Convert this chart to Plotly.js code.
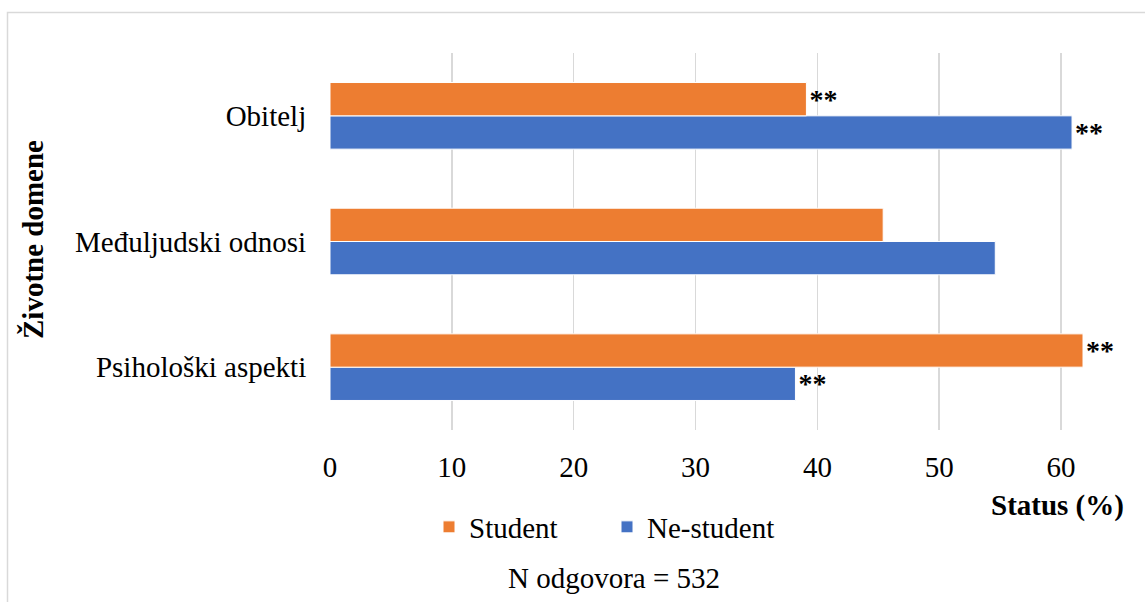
<!DOCTYPE html>
<html>
<head>
<meta charset="utf-8">
<script src="https://cdn.plot.ly/plotly-3.0.1.min.js"></script>
<style>
  html, body { margin: 0; padding: 0; background: #ffffff; }
  #chart { width: 1145px; height: 602px; }
</style>
</head>
<body>
<div id="chart"></div>
<script>
// Life domains, listed bottom to top on the category axis
const domains = ['Psihološki aspekti', 'Međuljudski odnosi', 'Obitelj'];

// Share of answers (%) by status
const studentValues = [61.8, 45.4, 39.1];
const nonStudentValues = [38.2, 54.6, 60.9];

// Significance markers shown at the end of each bar
const studentMarks = ['**', '', '**'];
const nonStudentMarks = ['**', '', '**'];

const seriesNames = ['Student', 'Ne-student'];
const xTicks = [0, 10, 20, 30, 40, 50, 60];

const serif = 'Liberation Serif, Times New Roman, serif';
const FS = 29;

const markFont = { family: serif, size: 28, color: '#000000', weight: 'bold' };

const traces = [
  {
    type: 'bar',
    orientation: 'h',
    name: seriesNames[1],
    y: domains,
    x: nonStudentValues,
    text: nonStudentMarks,
    textposition: 'outside',
    constraintext: 'none',
    cliponaxis: false,
    textfont: markFont,
    marker: { color: '#4472c4', line: { color: '#ffffff', width: 1 } },
    legendrank: 2,
    hoverinfo: 'x+name'
  },
  {
    type: 'bar',
    orientation: 'h',
    name: seriesNames[0],
    y: domains,
    x: studentValues,
    text: studentMarks,
    textposition: 'outside',
    constraintext: 'none',
    cliponaxis: false,
    textfont: markFont,
    marker: { color: '#ed7d31', line: { color: '#ffffff', width: 1 } },
    legendrank: 1,
    hoverinfo: 'x+name'
  }
];

// Plot area: x 330..1122, y 53..430
const L = 330, R = 23, T = 53, B = 172;
const W = 1145 - L - R, H = 602 - T - B;
const px = v => (v - L) / W;
const py = v => (602 - B - v) / H;

const layout = {
  width: 1145,
  height: 602,
  margin: { l: L, r: R, t: T, b: B, pad: 0 },
  paper_bgcolor: '#ffffff',
  plot_bgcolor: '#ffffff',
  barmode: 'group',
  bargap: 0.47,
  bargroupgap: 0,
  font: { family: serif, size: FS, color: '#000000' },
  xaxis: {
    range: [0, 65],
    tickvals: xTicks,
    ticktext: xTicks.map(String),
    showgrid: true,
    gridcolor: '#d9d9d9',
    gridwidth: 1.5,
    zeroline: false,
    showline: false,
    ticks: 'outside',
    ticklen: 11,
    tickcolor: 'rgba(0,0,0,0)',
    tickfont: { family: serif, size: FS, color: '#000000' },
    fixedrange: true
  },
  yaxis: {
    type: 'category',
    categoryorder: 'array',
    categoryarray: domains,
    showgrid: false,
    zeroline: false,
    showline: false,
    ticks: 'outside',
    ticklen: 17,
    tickcolor: 'rgba(0,0,0,0)',
    tickfont: { family: serif, size: FS, color: '#000000' },
    fixedrange: true
  },
  showlegend: true,
  legend: {
    orientation: 'h',
    x: px(429),
    xanchor: 'left',
    y: py(527),
    yanchor: 'middle',
    font: { family: serif, size: FS, color: '#000000' },
    entrywidth: 133,
    entrywidthmode: 'pixels',
    itemwidth: 30,
    tracegroupgap: 0,
    bgcolor: 'rgba(0,0,0,0)'
  },
  shapes: [
    {
      type: 'rect',
      xref: 'paper', yref: 'paper',
      x0: px(7.5), x1: px(1160),
      y0: py(640), y1: py(12.5),
      line: { color: '#d9d9d9', width: 1.5 },
      fillcolor: 'rgba(0,0,0,0)',
      layer: 'below'
    }
  ],
  annotations: [
    {
      text: 'Status (%)',
      xref: 'paper', yref: 'paper',
      x: px(1126), xanchor: 'right',
      y: py(505), yanchor: 'middle',
      showarrow: false,
      font: { family: serif, size: FS, color: '#000000', weight: 'bold' }
    },
    {
      text: 'Životne domene',
      xref: 'paper', yref: 'paper',
      x: px(33), xanchor: 'center',
      y: py(240), yanchor: 'middle',
      textangle: -90,
      showarrow: false,
      font: { family: serif, size: FS, color: '#000000', weight: 'bold' }
    },
    {
      text: 'N odgovora = 532',
      xref: 'paper', yref: 'paper',
      x: px(614), xanchor: 'center',
      y: py(578), yanchor: 'middle',
      showarrow: false,
      font: { family: serif, size: FS, color: '#000000' }
    }
  ]
};

Plotly.newPlot('chart', traces, layout, { displayModeBar: false, staticPlot: true });
</script>
</body>
</html>
